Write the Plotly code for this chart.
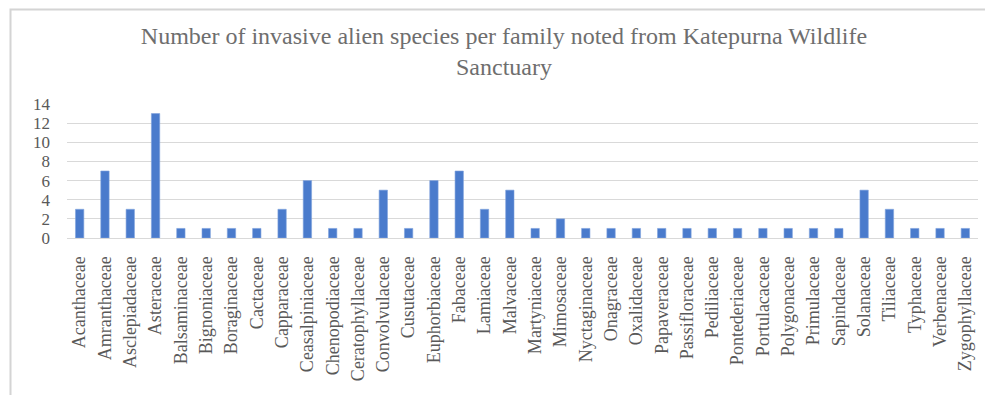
import plotly.graph_objects as go

families = ["Acanthaceae", "Amranthaceae", "Asclepiadaceae", "Asteraceae", "Balsaminaceae",
            "Bignoniaceae", "Boraginaceae", "Cactaceae", "Capparaceae", "Ceasalpiniaceae",
            "Chenopodiaceae", "Ceratophyllaceae", "Convolvulaceae", "Cusutaceae", "Euphorbiaceae",
            "Fabaceae", "Lamiaceae", "Malvaceae", "Martyniaceae", "Mimosaceae", "Nyctaginaceae",
            "Onagraceae", "Oxalidaceae", "Papaveraceae", "Passifloraceae", "Pediliaceae",
            "Pontederiaceae", "Portulacaceae", "Polygonaceae", "Primulaceae", "Sapindaceae",
            "Solanaceae", "Tiliaceae", "Typhaceae", "Verbenaceae", "Zygophyllaceae"]
species_counts = [3, 7, 3, 13, 1, 1, 1, 1, 3, 6, 1, 1, 5, 1, 6, 7, 3, 5, 1, 2, 1,
                  1, 1, 1, 1, 1, 1, 1, 1, 1, 1, 5, 3, 1, 1, 1]
y_ticks = [0, 2, 4, 6, 8, 10, 12, 14]

title_text = "Number of invasive alien species per family noted from Katepurna Wildlife<br>Sanctuary"

W, H = 985, 395
L, R, T, B = 67, 7, 104, 157
pw, ph = W - L - R, H - T - B
SERIF = "Liberation Serif, Times New Roman, serif"

fig = go.Figure(go.Bar(
    x=families, y=species_counts,
    marker=dict(color="#4a7bcc", line=dict(color="#7fa3dd", width=0.6)),
    width=0.33,
))

fig.update_layout(
    width=W, height=H,
    margin=dict(l=L, r=R, t=T, b=B, pad=0),
    paper_bgcolor="white", plot_bgcolor="white",
    showlegend=False,
    font=dict(family=SERIF, color="#595959"),
    title=dict(text=title_text, x=504 / W, xanchor="center", xref="container",
               y=1 - 44 / H, yanchor="top", yref="container",
               font=dict(family=SERIF, size=24, color="#6e6e6e")),
    xaxis=dict(type="category", tickangle=-90,
               tickfont=dict(family=SERIF, size=18, color="#595959"),
               showgrid=False, showline=True, linecolor="#d9d9d9", linewidth=1,
               ticks="", ticklabelstandoff=10, range=[-0.5, len(families) - 0.5]),
    yaxis=dict(range=[0, 14], tickvals=y_ticks, showgrid=True, gridcolor="#d9d9d9",
               gridwidth=1, zeroline=False, showline=False, ticks="",
               tickfont=dict(family=SERIF, size=17, color="#595959"), ticklabelstandoff=16),
    shapes=[dict(type="rect", xref="paper", yref="paper",
                 x0=(10.5 - L) / pw, x1=(W + 10 - L) / pw,
                 y0=(H - B - (H + 10)) / ph, y1=(H - B - 9.5) / ph,
                 line=dict(color="#d4d4d4", width=2), fillcolor="rgba(0,0,0,0)", layer="above")],
)

fig.write_html("out.html")
